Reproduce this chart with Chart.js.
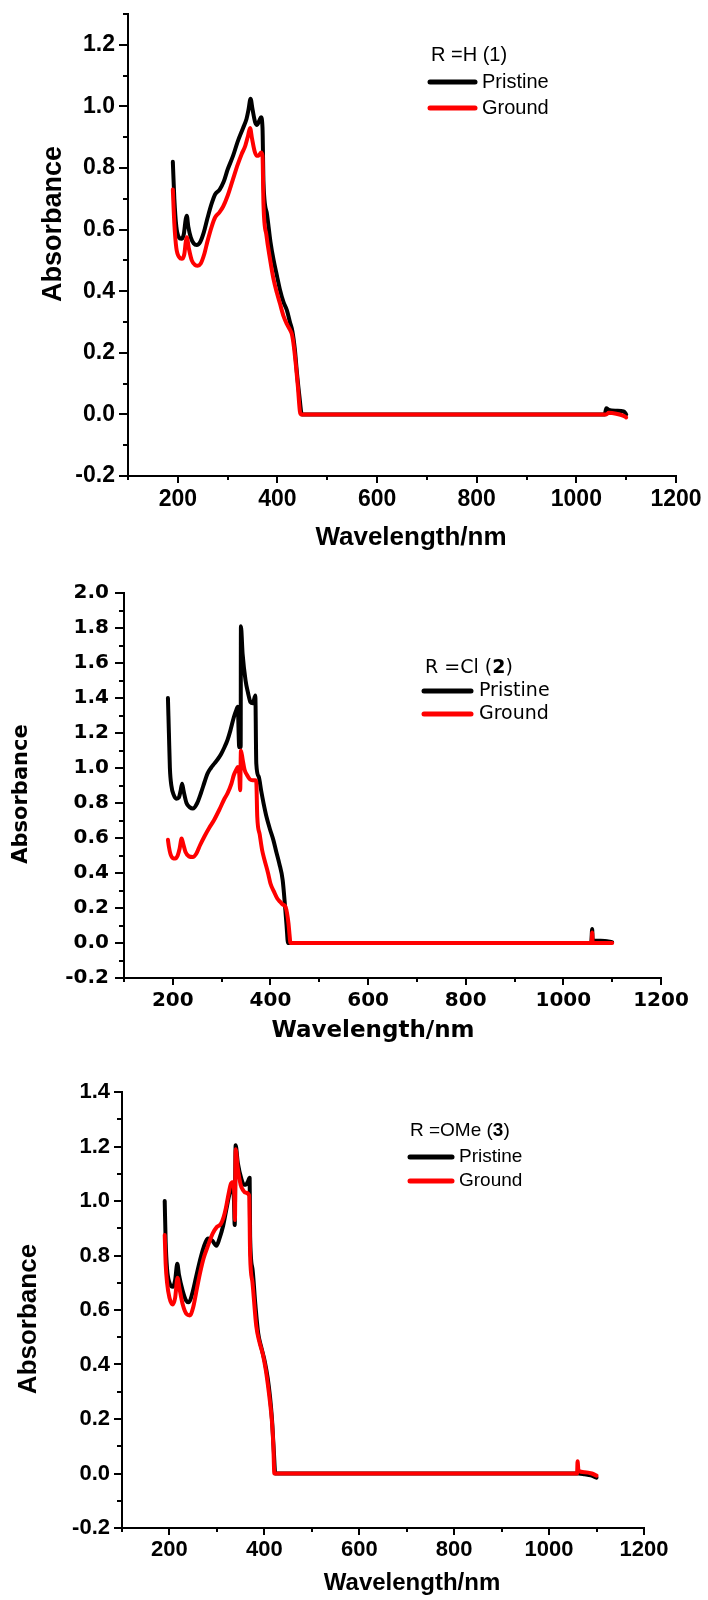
<!DOCTYPE html>
<html>
<head>
<meta charset="utf-8">
<script src="https://cdn.jsdelivr.net/npm/chart.js@4.4.1/dist/chart.umd.min.js"></script>
<style>
  body { margin: 0; background: #fff; }
  #wrap { position: relative; width: 708px; height: 1600px; }
  canvas { position: absolute; left: 0; }
</style>
</head>
<body>
<div id="wrap">
  <canvas id="c1" width="708" height="560" style="top:0px"></canvas>
  <canvas id="c2" width="708" height="500" style="top:560px"></canvas>
  <canvas id="c3" width="708" height="540" style="top:1060px"></canvas>
</div>
<script>
// R = H (1)
const hPristineNm = [190, 193, 197, 202, 207, 212, 216, 218, 221, 226, 232, 238, 245, 252, 260, 268, 275, 284, 292, 300, 311, 320, 331, 338, 342, 346, 350, 355, 359, 364, 367, 370, 372, 379, 386, 392, 399, 405, 412, 419, 425, 430, 435, 439, 444, 449, 460, 1057, 1060, 1065, 1080, 1095, 1100];
const hPristineAbs = [0.82, 0.70, 0.61, 0.575, 0.57, 0.585, 0.635, 0.645, 0.61, 0.575, 0.555, 0.55, 0.56, 0.59, 0.64, 0.685, 0.715, 0.73, 0.755, 0.795, 0.84, 0.885, 0.93, 0.96, 0.99, 1.025, 0.99, 0.95, 0.94, 0.955, 0.965, 0.93, 0.75, 0.65, 0.56, 0.503, 0.45, 0.405, 0.365, 0.338, 0.30, 0.27, 0.21, 0.137, 0.06, 0.0, 0.0, 0.0, 0.02, 0.015, 0.012, 0.01, 0.0];
const hGroundNm = [190, 193, 197, 203, 208, 213, 216, 218, 222, 228, 235, 240, 246, 253, 260, 268, 275, 283, 291, 300, 310, 320, 328, 335, 341, 345, 349, 354, 358, 362, 367, 370, 372, 378, 385, 392, 399, 405, 412, 419, 425, 429, 433, 437, 441, 445, 447, 1060, 1065, 1080, 1095, 1100];
const hGroundAbs = [0.73, 0.62, 0.54, 0.51, 0.505, 0.52, 0.56, 0.575, 0.54, 0.50, 0.485, 0.483, 0.49, 0.52, 0.565, 0.61, 0.64, 0.655, 0.675, 0.71, 0.76, 0.81, 0.845, 0.87, 0.905, 0.93, 0.895, 0.855, 0.84, 0.84, 0.85, 0.84, 0.68, 0.58, 0.505, 0.44, 0.394, 0.36, 0.32, 0.293, 0.275, 0.26, 0.22, 0.16, 0.09, 0.01, 0.0, 0.0, 0.005, 0.002, -0.005, -0.01];

// R = Cl (2)
const clPristineNm = [190, 192, 194, 197, 202, 207, 212, 216, 219, 222, 228, 235, 241, 250, 258, 265, 271, 278, 285, 292, 299, 306, 312, 318, 325, 330, 333, 336, 339, 339.5, 343, 349, 354, 359, 364, 369, 371, 376, 381, 386, 392, 399, 406, 412, 418, 425, 430, 433, 436, 450, 1057, 1059, 1060, 1062, 1070, 1085, 1100];
const clPristineAbs = [1.40, 1.20, 1.0, 0.90, 0.845, 0.825, 0.83, 0.87, 0.91, 0.87, 0.80, 0.775, 0.768, 0.80, 0.86, 0.92, 0.968, 1.0, 1.025, 1.05, 1.08, 1.12, 1.16, 1.215, 1.29, 1.33, 1.35, 1.12, 1.12, 1.81, 1.65, 1.50, 1.43, 1.377, 1.37, 1.415, 1.025, 0.95, 0.87, 0.797, 0.72, 0.65, 0.588, 0.52, 0.455, 0.36, 0.206, 0.10, 0.0, 0.0, 0.0, 0.08, 0.02, 0.015, 0.013, 0.012, 0.005];
const clGroundNm = [190, 192, 195, 200, 205, 210, 214, 218, 221, 226, 233, 241, 248, 256, 265, 275, 284, 295, 305, 312, 320, 325, 330, 333, 336, 338, 339.5, 343, 347, 352, 358, 363, 369, 371, 373, 378, 383, 388, 395, 400, 407, 414, 420, 425, 431, 434, 437, 439, 441, 450, 1058, 1059, 1060, 1062, 1100];
const clGroundAbs = [0.59, 0.55, 0.51, 0.485, 0.483, 0.50, 0.54, 0.597, 0.57, 0.52, 0.495, 0.491, 0.51, 0.56, 0.61, 0.66, 0.70, 0.76, 0.82, 0.855, 0.91, 0.96, 0.99, 1.006, 0.97, 0.873, 1.10, 1.05, 0.99, 0.96, 0.935, 0.93, 0.93, 0.92, 0.72, 0.62, 0.53, 0.473, 0.40, 0.34, 0.295, 0.254, 0.235, 0.22, 0.206, 0.17, 0.11, 0.05, 0.0, 0.0, 0.0, 0.06, 0.0, 0.0, 0.0];

// R = OMe (3)
const omePristineNm = [190, 192, 195, 200, 207, 212, 216.5, 220, 228, 235, 241, 248, 256, 264, 272, 281, 290, 299, 305, 313, 320, 327, 333, 336, 337.5, 339.5, 344, 352, 357, 361, 365, 369, 370, 375, 381, 387, 394, 401, 407, 412, 416, 420, 423, 440, 1062, 1075, 1088, 1100];
const omePristineAbs = [1.0, 0.85, 0.75, 0.70, 0.685, 0.71, 0.77, 0.73, 0.67, 0.635, 0.628, 0.66, 0.72, 0.78, 0.83, 0.862, 0.855, 0.836, 0.86, 0.908, 0.97, 1.03, 1.06, 1.0, 0.912, 1.205, 1.14, 1.079, 1.06, 1.06, 1.07, 1.085, 0.87, 0.75, 0.62, 0.515, 0.46, 0.41, 0.35, 0.28, 0.20, 0.08, 0.0, 0.0, 0.0, -0.003, -0.007, -0.015];
const omeGroundNm = [190, 192, 195, 200, 207, 212, 217, 221, 228, 236, 243, 250, 258, 265, 272, 280, 291, 300, 308, 314, 319, 325, 330, 335, 337, 338, 339.5, 344, 350, 355, 361, 368, 370, 375, 383, 390, 397, 403, 407, 412, 416, 419, 421, 440, 1059, 1060, 1062, 1075, 1090, 1100];
const omeGroundAbs = [0.875, 0.77, 0.70, 0.645, 0.62, 0.645, 0.718, 0.68, 0.62, 0.585, 0.58, 0.61, 0.68, 0.74, 0.79, 0.83, 0.88, 0.905, 0.915, 0.94, 0.975, 1.03, 1.065, 1.07, 1.0, 0.93, 1.19, 1.12, 1.06, 1.04, 1.03, 1.02, 0.80, 0.70, 0.54, 0.48, 0.436, 0.38, 0.331, 0.26, 0.19, 0.10, 0.0, 0.0, 0.0, 0.045, 0.01, 0.005, 0.0, -0.008];

// tick values
const xMajor = [200, 400, 600, 800, 1000, 1200];
const xMinor = [100, 300, 500, 700, 900, 1100];
const yMajorH = [-0.2, 0, 0.2, 0.4, 0.6, 0.8, 1.0, 1.2];
const yMinorH = [-0.1, 0.1, 0.3, 0.5, 0.7, 0.9, 1.1, 1.3];
const yMajorCl = [-0.2, 0, 0.2, 0.4, 0.6, 0.8, 1.0, 1.2, 1.4, 1.6, 1.8, 2.0];
const yMinorCl = [-0.1, 0.1, 0.3, 0.5, 0.7, 0.9, 1.1, 1.3, 1.5, 1.7, 1.9];
const yMajorOMe = [-0.2, 0, 0.2, 0.4, 0.6, 0.8, 1.0, 1.2, 1.4];
const yMinorOMe = [-0.1, 0.1, 0.3, 0.5, 0.7, 0.9, 1.1, 1.3];

const ARIAL = '"Liberation Sans", Arial, sans-serif';
const DEJAVU = '"DejaVu Sans", Verdana, sans-serif';

function toPoints(nm, abs) {
  return nm.map((x, i) => ({ x: x, y: abs[i] }));
}

// short minor ticks on both axes
const minorTicks = {
  id: "minorTicks",
  afterDraw(chart, args, opts) {
    const { ctx, chartArea, scales } = chart;
    ctx.save();
    ctx.strokeStyle = "#000";
    ctx.lineWidth = 2;
    ctx.beginPath();
    opts.x.forEach((v) => {
      const px = Math.round(scales.x.getPixelForValue(v));
      ctx.moveTo(px, chartArea.bottom);
      ctx.lineTo(px, chartArea.bottom + opts.xLen);
    });
    opts.y.forEach((v) => {
      const py = Math.round(scales.y.getPixelForValue(v));
      ctx.moveTo(chartArea.left - opts.yLen, py);
      ctx.lineTo(chartArea.left, py);
    });
    ctx.stroke();
    ctx.restore();
  },
};

// axis titles and the small legend box
const panelText = {
  id: "panelText",
  afterDraw(chart, args, o) {
    const ctx = chart.ctx;
    ctx.save();
    ctx.fillStyle = "#000";
    ctx.textBaseline = "middle";
    ctx.textAlign = "center";
    ctx.font = "bold " + o.xTitleSize + "px " + o.family;
    ctx.fillText(o.xTitle, o.xTitleAt[0], o.xTitleAt[1]);

    ctx.save();
    ctx.translate(o.yTitleAt[0], o.yTitleAt[1]);
    ctx.rotate(-Math.PI / 2);
    ctx.font = "bold " + o.yTitleSize + "px " + o.family;
    ctx.fillText(o.yTitle, 0, 0);
    ctx.restore();

    const lg = o.legend;
    ctx.textAlign = "left";
    let x = lg.x;
    lg.title.forEach((part) => {
      ctx.font = (part.bold ? "bold " : "") + lg.size + "px " + o.family;
      ctx.fillText(part.text, x, lg.titleY);
      x += ctx.measureText(part.text).width;
    });
    ctx.font = lg.size + "px " + o.family;
    chart.data.datasets.forEach((ds, i) => {
      const y = lg.rowY[i];
      ctx.strokeStyle = ds.borderColor;
      ctx.lineWidth = 5;
      ctx.lineCap = "round";
      ctx.beginPath();
      ctx.moveTo(lg.line[0], y);
      ctx.lineTo(lg.line[1], y);
      ctx.stroke();
      ctx.fillText(ds.label, lg.textX, y);
    });
    ctx.restore();
  },
};

function makeChart(id, o) {
  const tickFont = { family: o.family, size: o.tickSize, weight: "bold" };
  const config = {
    type: "line",
    data: {
      datasets: [
        {
          label: "Pristine",
          data: toPoints(o.pNm, o.pAbs),
          borderColor: "#000000",
          borderWidth: 4,
          pointRadius: 0,
          cubicInterpolationMode: "monotone",
          borderJoinStyle: "round",
          borderCapStyle: "round",
          order: 1,
        },
        {
          label: "Ground",
          data: toPoints(o.gNm, o.gAbs),
          borderColor: "#ff0000",
          borderWidth: 4,
          pointRadius: 0,
          cubicInterpolationMode: "monotone",
          borderJoinStyle: "round",
          borderCapStyle: "round",
          order: 0,
        },
      ],
    },
    options: {
      responsive: false,
      animation: false,
      layout: { padding: { top: o.top, right: o.right, left: 0, bottom: 0 } },
      scales: {
        x: {
          type: "linear",
          min: 100,
          max: 1200,
          afterBuildTicks: (s) => {
            s.ticks = xMajor.map((v) => ({ value: v }));
          },
          afterFit: (s) => {
            s.height = o.xHeight;
            s.paddingLeft = 0;
            s.paddingRight = 0;
          },
          border: { display: true, color: "#000", width: 2 },
          grid: {
            display: true,
            drawOnChartArea: false,
            drawTicks: true,
            tickLength: 7,
            tickWidth: 2,
            tickColor: "#000",
            color: "#000",
            lineWidth: 2,
          },
          ticks: {
            color: "#000",
            font: tickFont,
            padding: o.xPad,
            maxRotation: 0,
            autoSkip: false,
            callback: (v) => String(v),
          },
        },
        y: {
          type: "linear",
          min: o.yMin,
          max: o.yMax,
          afterBuildTicks: (s) => {
            s.ticks = o.yMajor.map((v) => ({ value: v }));
          },
          afterFit: (s) => {
            s.width = o.yWidth;
            s.paddingTop = 0;
            s.paddingBottom = 0;
          },
          border: { display: true, color: "#000", width: 2 },
          grid: {
            display: true,
            drawOnChartArea: false,
            drawTicks: true,
            tickLength: o.yTick,
            tickWidth: 2,
            tickColor: "#000",
            color: "#000",
            lineWidth: 2,
          },
          ticks: {
            color: "#000",
            font: tickFont,
            padding: o.yPad,
            autoSkip: false,
            callback: (v) => Number(v).toFixed(1),
          },
        },
      },
      plugins: {
        legend: { display: false },
        tooltip: { enabled: false },
        minorTicks: { x: xMinor, y: o.yMinor, xLen: 4, yLen: 5 },
        panelText: o.text,
      },
    },
    plugins: [minorTicks, panelText],
  };
  return new Chart(document.getElementById(id), config);
}

makeChart("c1", {
  pNm: hPristineNm, pAbs: hPristineAbs, gNm: hGroundNm, gAbs: hGroundAbs,
  yMin: -0.2, yMax: 1.3, yMajor: yMajorH, yMinor: yMinorH,
  top: 14, right: 32, yWidth: 128, xHeight: 84,
  family: ARIAL, tickSize: 23, yTick: 9, yPad: 4, xPad: 3,
  text: {
    family: ARIAL,
    xTitle: "Wavelength/nm", xTitleSize: 26, xTitleAt: [411, 538],
    yTitle: "Absorbance", yTitleSize: 27, yTitleAt: [54, 224],
    legend: {
      x: 431, titleY: 55, size: 20,
      title: [{ text: "R =H (1)", bold: false }],
      line: [430, 475], rowY: [82, 108], textX: 482,
    },
  },
});

makeChart("c2", {
  pNm: clPristineNm, pAbs: clPristineAbs, gNm: clGroundNm, gAbs: clGroundAbs,
  yMin: -0.2, yMax: 2.0, yMajor: yMajorCl, yMinor: yMinorCl,
  top: 33, right: 47, yWidth: 124, xHeight: 82,
  family: DEJAVU, tickSize: 20, yTick: 9, yPad: 6, xPad: 4,
  text: {
    family: DEJAVU,
    xTitle: "Wavelength/nm", xTitleSize: 23, xTitleAt: [373, 471],
    yTitle: "Absorbance", yTitleSize: 21, yTitleAt: [22, 234],
    legend: {
      x: 425, titleY: 108, size: 19,
      title: [
        { text: "R =Cl (", bold: false },
        { text: "2", bold: true },
        { text: ")", bold: false },
      ],
      line: [424, 471], rowY: [131, 154], textX: 479,
    },
  },
});

makeChart("c3", {
  pNm: omePristineNm, pAbs: omePristineAbs, gNm: omeGroundNm, gAbs: omeGroundAbs,
  yMin: -0.2, yMax: 1.4, yMajor: yMajorOMe, yMinor: yMinorOMe,
  top: 32, right: 64, yWidth: 122, xHeight: 72,
  family: ARIAL, tickSize: 22, yTick: 8, yPad: 4, xPad: 2,
  text: {
    family: ARIAL,
    xTitle: "Wavelength/nm", xTitleSize: 24, xTitleAt: [412, 523],
    yTitle: "Absorbance", yTitleSize: 26, yTitleAt: [29, 259],
    legend: {
      x: 410, titleY: 71, size: 19,
      title: [
        { text: "R =OMe (", bold: false },
        { text: "3", bold: true },
        { text: ")", bold: false },
      ],
      line: [410, 452], rowY: [97, 121], textX: 459,
    },
  },
});
</script>
</body>
</html>
